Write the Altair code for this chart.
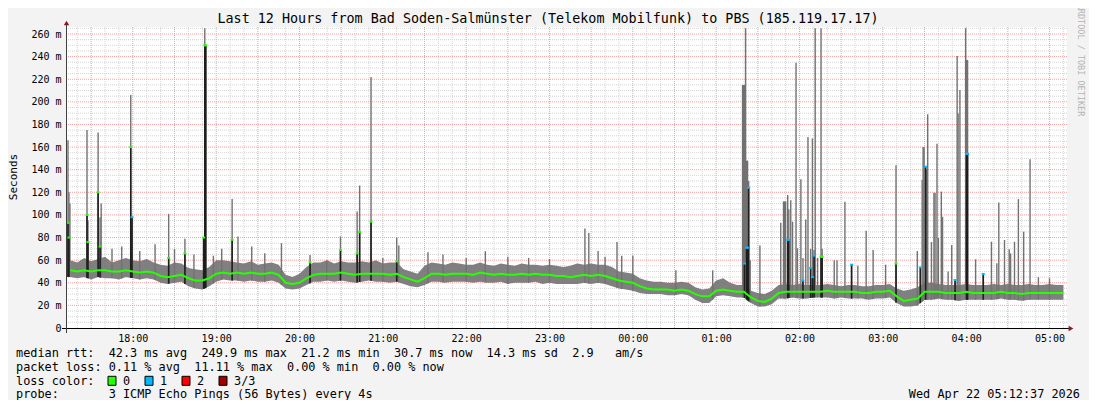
import altair as alt
import pandas as pd
import numpy as np

# ---------------- texts ----------------
title_text = "Last 12 Hours from Bad Soden-Salmünster (Telekom Mobilfunk) to PBS (185.119.17.17)"
y_title = "Seconds"
watermark = "RRDTOOL / TOBI OETIKER"
stat_lines = [
    "median rtt:  42.3 ms avg  249.9 ms max  21.2 ms min  30.7 ms now  14.3 ms sd  2.9   am/s",
    "packet loss: 0.11 % avg  11.11 % max  0.00 % min  0.00 % now",
    "loss color:",
    "probe:       3 ICMP Echo Pings (56 Bytes) every 4s",
]
date_text = "Wed Apr 22 05:12:37 2026"
loss_labels = ["0", "1", "2", "3/3"]
loss_colors = ["#26ff00", "#00b8ff", "#ff0000", "#a10000"]

# ---------------- data (time = minutes after 17:00) ----------------
t_start = 12.6   # 17:12:37
t_end = 732.6    # 05:12:37
y_ticks = list(range(0, 261, 20))
hour_ticks = list(range(60, 721, 60))

band_t = list(range(15, 731, 5))
band_med = [
    51, 50, 51, 50, 51, 51, 50, 50, 51, 50, 49, 50,
    49, 46, 45, 46, 47, 44, 42, 42, 44, 48, 49, 48,
    49, 48, 49, 48, 48, 49, 47, 40, 39, 40, 44, 47,
    48, 48, 48, 49, 48, 47, 48, 48, 48, 48, 47, 48,
    45, 43, 41, 44, 48, 48, 47, 48, 48, 48, 47, 49,
    48, 47, 48, 47, 47, 48, 47, 48, 47, 47, 46, 46,
    45, 46, 47, 46, 47, 46, 44, 42, 41, 40, 37, 35,
    34, 34, 34, 33, 34, 33, 30, 28, 28, 33, 34, 33,
    32, 32, 27, 24, 23, 26, 31, 32, 32, 32, 32, 32,
    32, 33, 32, 32, 32, 32, 31, 31, 32, 32, 33, 28,
    24, 25, 26, 32, 32, 32, 31, 31, 31, 32, 31, 31,
    31, 31, 32, 31, 31, 30, 31, 31, 31, 31, 31, 31,
]
band_lo = [
    45, 44, 45, 43, 45, 44, 44, 43, 45, 44, 43, 44,
    43, 40, 39, 40, 41, 37, 35, 34, 37, 41, 43, 42,
    42, 41, 42, 41, 41, 42, 40, 35, 34, 35, 38, 41,
    41, 42, 41, 42, 41, 40, 41, 42, 41, 41, 40, 41,
    39, 37, 36, 38, 41, 41, 40, 41, 41, 41, 40, 41,
    40, 40, 41, 39, 40, 40, 40, 41, 39, 40, 39, 39,
    39, 39, 40, 39, 40, 39, 37, 35, 34, 33, 31, 30,
    30, 30, 29, 29, 30, 29, 25, 22, 22, 28, 29, 28,
    27, 27, 22, 19, 19, 21, 26, 26, 27, 26, 26, 27,
    27, 27, 26, 27, 26, 26, 26, 25, 26, 26, 27, 22,
    19, 19, 20, 25, 25, 26, 25, 25, 24, 25, 25, 25,
    25, 25, 26, 25, 25, 24, 25, 25, 25, 25, 25, 25,
]
band_hi = [
    60, 58, 62, 59, 61, 63, 58, 60, 62, 60, 59, 61,
    58, 56, 55, 58, 57, 53, 52, 51, 54, 60, 60, 59,
    58, 57, 59, 56, 57, 58, 56, 47, 45, 48, 54, 58,
    58, 60, 57, 59, 58, 58, 59, 58, 60, 57, 58, 58,
    52, 50, 48, 55, 58, 57, 56, 58, 57, 56, 56, 58,
    56, 55, 57, 56, 55, 57, 56, 56, 55, 56, 55, 54,
    55, 57, 56, 57, 56, 56, 54, 50, 49, 48, 44, 42,
    41, 41, 40, 40, 41, 40, 36, 34, 35, 42, 44, 40,
    38, 38, 33, 31, 30, 33, 38, 39, 38, 39, 38, 38,
    38, 39, 38, 37, 38, 38, 37, 37, 38, 38, 39, 35,
    33, 34, 36, 40, 40, 39, 38, 38, 38, 39, 38, 38,
    38, 39, 38, 39, 38, 38, 39, 38, 38, 39, 38, 38,
]

spk_t = [
    13.3, 14.0, 14.7, 27.0, 27.7, 35.0, 36.4, 37.2, 45, 52, 58.5, 59.4, 65, 76,
    85.8, 90, 97.5, 104, 111.0, 111.8, 112.5, 118, 124, 131.5, 135.7, 145.6, 155,
    167, 187.6, 199.6, 209.5, 221.5, 223.3, 231.5, 240, 250, 251.5, 272.5, 283.3,
    300, 313.8, 330, 345, 360, 385.5, 388.3, 395, 400, 408.6, 412, 420, 451, 477.5,
    499.0, 499.7, 500.4, 501.2, 501.9, 502.6, 503.4, 504.5, 511.5, 526.5, 528.5,
    529.3, 530, 531.5, 532.3, 533.7, 535, 537.5, 538.5, 541, 542.5, 544.5, 546.1,
    548, 549.3, 550.5, 551.3, 553, 555.5, 556.3, 565, 567, 572.7, 577.5, 582, 588,
    593, 602, 609.5,
    624.8, 627, 628.3, 629, 629.7, 630.8, 631.5, 632.3, 635, 636.8, 637.6, 639,
    640, 642.1, 643, 647, 649.6, 652, 653.5, 654.2, 655.5, 659.6, 660.3, 661,
    666.8, 672.3, 678.2, 682.1, 683.5, 687.6, 691, 692, 694.8, 697.6, 701.4, 706,
    712, 720,
]
spk_hi = [
    166, 120, 110, 175, 95, 173, 98, 110, 70, 72, 206, 98, 68, 74,
    101, 70, 79, 65, 80, 265, 250, 64, 70, 114, 81, 72, 66,
    75, 64.5, 60, 81, 103, 126, 222, 62, 80, 73, 67, 65,
    62, 68, 63, 62, 61, 88, 84, 68, 63, 76, 64, 64, 51, 51,
    215, 215, 215, 265, 148, 148, 130, 60, 73, 93, 112,
    112, 112, 117.6, 105, 113, 94, 234.6, 70.5, 131.5, 62, 96, 169,
    70, 167.7, 69, 265, 62, 265, 70, 60, 60, 111.7, 56, 55, 86,
    69, 56, 144,
    68, 53.6, 131, 160, 160, 142.6, 140, 189, 76, 119.7, 119.7, 163,
    79.6, 120.6, 98.4, 50, 73.4, 42.4, 240.5, 189.8, 210.5, 265, 237, 237,
    60.7, 47.8, 76.3, 57.2, 111, 77.8, 69.6, 66, 76.3, 114, 85.2, 149.2,
    45, 44,
]
N = None
spk_med = [
    93, 80, N, 100, 76, 120, 72, N, N, N, 160, 98, N, N,
    62, N, 66, N, 80, 250, 250, N, N, 78, N, N, N,
    N, 58, N, 69, 66, 85, 94, N, 59, N, N, N,
    N, N, N, N, N, N, N, N, N, N, N, N, N, N,
    N, N, 57, N, 71, 71, 124, N, N, N, N,
    N, N, 78, 78, N, N, N, N, N, 42, N, N,
    53, 45, 64, N, N, 63, 63, N, N, N, 56, N, N,
    N, N, 57,
    N, 53.6, N, N, N, 142.6, N, N, N, N, N, N,
    N, N, N, N, N, 42.4, N, N, N, N, 154, 154,
    N, 47.8, N, N, N, N, N, N, N, N, N, N,
    N, N,
]
spk_loss = [
    0, 0, 0, 0, 0, 0, 0, 0, 0, 0, 0, 1, 0, 0,
    0, 0, 0, 0, 0, 0, 0, 0, 0, 0, 0, 0, 0,
    0, 0, 0, 0, 0, 0, 0, 0, 0, 0, 0, 0,
    0, 0, 0, 0, 0, 0, 0, 0, 0, 0, 0, 0, 0, 0,
    1, 1, 1, 1, 1, 1, 1, 0, 0, 0, 0,
    0, 0, 1, 1, 0, 0, 0, 0, 0, 1, 0, 0,
    1, 1, 1, 0, 0, 0, 0, 0, 0, 0, 1, 0, 0,
    0, 0, 0,
    0, 1, 0, 0, 0, 1, 0, 0, 0, 0, 0, 0,
    0, 0, 0, 0, 0, 1, 0, 0, 0, 0, 1, 1,
    0, 1, 0, 0, 0, 0, 0, 0, 0, 0, 0, 0,
    0, 0,
]

# ---------------- frames ----------------
band = pd.DataFrame({"t": band_t, "med": band_med, "lo": band_lo, "hi": band_hi})
spk = pd.DataFrame({"t": spk_t, "hi": spk_hi, "med": spk_med, "loss": spk_loss})
spk["med"] = pd.to_numeric(spk["med"])
spk["base"] = np.interp(spk["t"], band["t"], band["lo"])
spk["loss"] = spk["loss"].astype(str)
spk_m = spk[spk["med"].notna()]

vmin = pd.DataFrame({"t": [v for v in range(20, 731, 10) if v % 30]})
vmaj = pd.DataFrame({"t": list(range(30, 731, 30))})
hmin = pd.DataFrame({"v": [v for v in range(5, 266, 5) if v % 20]})
hmaj = pd.DataFrame({"v": list(range(20, 261, 20))})

FONT = "DejaVu Sans Mono"
GREY = "#727272"
DARK = "#1e1e1e"
OX, OY = 67, 27  # absolute position of the plot origin in the reference

xs = alt.Scale(domain=[t_start, t_end], nice=False, zero=False)
ys = alt.Scale(domain=[0, 266.2], nice=False, zero=False)

XA = alt.Axis(
    values=hour_ticks,
    labelExpr="(((floor(datum.value/60)+17)%24) < 10 ? '0' : '') + ((floor(datum.value/60)+17)%24) + ':00'",
    labelFont=FONT, labelFontSize=10, labelColor="#000", labelPadding=5,
    ticks=False, tickSize=0, domain=False, grid=False, title=None,
)
YA = alt.Axis(
    values=y_ticks,
    labelExpr="datum.value == 0 ? '0\u00a0\u00a0' : datum.value + '\u00a0m'",
    labelFont=FONT, labelFontSize=10, labelColor="#000", labelPadding=6,
    ticks=False, tickSize=0, domain=False, grid=False, title=None,
)


def X(f):
    return alt.X(f, type="quantitative", scale=xs, axis=XA)


def Y(f):
    return alt.Y(f, type="quantitative", scale=ys, axis=YA)


grid_minor_v = alt.Chart(vmin).mark_rule(color="#d4d4d4", strokeDash=[1, 1], strokeWidth=1).encode(x=X("t"))
grid_minor_h = alt.Chart(hmin).mark_rule(color="#d4d4d4", strokeDash=[1, 1], strokeWidth=1).encode(y=Y("v"))
grid_major_v = alt.Chart(vmaj).mark_rule(color="#f2a0a0", strokeDash=[1, 1], strokeWidth=1).encode(x=X("t"))
grid_major_h = alt.Chart(hmaj).mark_rule(color="#f2a0a0", strokeDash=[1, 1], strokeWidth=1).encode(y=Y("v"))

band_area = alt.Chart(band).mark_area(color=GREY, opacity=0.9).encode(x=X("t"), y=Y("lo"), y2="hi:Q")
spikes = alt.Chart(spk).mark_rule(color=GREY, strokeWidth=1.4).encode(x=X("t"), y=Y("base"), y2="hi:Q")
dark = alt.Chart(spk_m).mark_rule(color=DARK, strokeWidth=1.6).encode(x=X("t"), y=Y("base"), y2="med:Q")
med_line = alt.Chart(band).mark_line(color=loss_colors[0], strokeWidth=2).encode(x=X("t"), y=Y("med"))
med_ticks = alt.Chart(spk_m).mark_tick(orient="horizontal", size=3, thickness=2, opacity=1).encode(
    x=X("t"), y=Y("med"),
    color=alt.Color("loss:N", scale=alt.Scale(domain=["0", "1", "2", "3"], range=loss_colors), legend=None),
)

one = pd.DataFrame({"a": [0]})
x_line = alt.Chart(one).mark_rule(color="#000", strokeWidth=1).encode(
    x=alt.value(62 - OX), x2=alt.value(1069 - OX), y=alt.value(328.5 - OY))
y_line = alt.Chart(one).mark_rule(color="#404040", strokeWidth=1).encode(
    x=alt.value(66.5 - OX), y=alt.value(333 - OY), y2=alt.value(23 - OY))
arrow_up = alt.Chart(one).mark_point(shape="triangle-up", filled=True, color="#8b1a1a", size=30, opacity=1).encode(
    x=alt.value(66.5 - OX), y=alt.value(23 - OY))
arrow_r = alt.Chart(one).mark_point(shape="triangle-right", filled=True, color="#8b1a1a", size=30, opacity=1).encode(
    x=alt.value(1071 - OX), y=alt.value(328.5 - OY))


def txt(s, ax, ay, size=11.85, align="left", angle=0, color="#000"):
    s = s.replace(" ", "\u00a0")
    return alt.Chart(pd.DataFrame({"s": [s]})).mark_text(
        font=FONT, fontSize=size, align=align, baseline="middle", angle=angle, color=color
    ).encode(text="s:N", x=alt.value(ax - OX), y=alt.value(ay - OY))


line_y = [353.2, 367.0, 380.8, 393.8]
texts = [
    txt(title_text, 548, 19, size=13.4, align="center"),
    txt(y_title, 14, 177, size=11, align="center", angle=270),
    txt(watermark, 1081, 60, size=8.5, align="center", angle=90, color="#b4b4b4"),
    txt(stat_lines[0], 16, line_y[0]),
    txt(stat_lines[1], 16, line_y[1]),
    txt(stat_lines[2], 16, line_y[2]),
    txt(stat_lines[3], 16, line_y[3]),
    txt(date_text, 1080, line_y[3], align="right"),
]

swatches = []
for i, (lab, col) in enumerate(zip(loss_labels, loss_colors)):
    x0 = 108 + 37 * i
    swatches.append(
        alt.Chart(one).mark_rect(fill=col, stroke="#000", strokeWidth=1).encode(
            x=alt.value(x0 - OX), x2=alt.value(x0 + 8 - OX),
            y=alt.value(line_y[2] - 4.5 - OY), y2=alt.value(line_y[2] + 4.5 - OY))
    )
    swatches.append(txt(lab, x0 + 15, line_y[2]))

chart = alt.layer(
    grid_minor_v, grid_minor_h, grid_major_v, grid_major_h,
    band_area, spikes, dark, med_line, med_ticks,
    x_line, y_line, arrow_up, arrow_r,
    *swatches, *texts,
).properties(
    width=1000, height=301,
    autosize=alt.AutoSizeParams(type="none"),
    padding={"left": 59, "top": 19, "right": 22, "bottom": 72},
    background="#f3f3f3",
).configure_view(fill="white", stroke=None)

chart.save("out.html", embed_options={"renderer": "svg", "actions": False})
